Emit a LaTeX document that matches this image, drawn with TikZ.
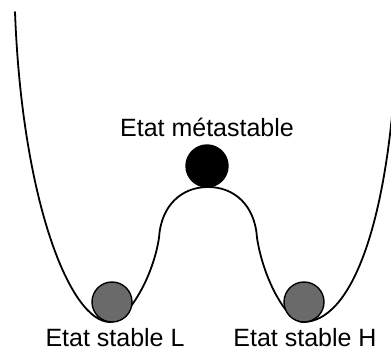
\documentclass[tikz,border=0pt]{standalone}
\usepackage{fontspec}
\setmainfont{Liberation Sans}
\definecolor{ballgray}{HTML}{6A6A6A}
\tikzset{
  well/.style={line width=1.8pt, line join=round, line cap=round},
  ball/.style={circle, draw=black, line width=1.4pt, inner sep=0pt, minimum size=40pt},
  lbl/.style={anchor=base, inner sep=0pt, font=\fontsize{25}{30}\selectfont}
}
\begin{document}
\begin{tikzpicture}[x=1pt,y=-1pt]
\useasboundingbox (0,0) rectangle (391,352);
\begin{scope}
\clip (0,0) rectangle (391,352);
\draw[well] (15,12) .. controls (22,200) and (70,322) .. (110,322)
  .. controls (125,322) and (152,282) .. (159,238)
  .. controls (161,205) and (182,187) .. (208,187)
  .. controls (234,187) and (255,205) .. (257,238)
  .. controls (264,282) and (288,322) .. (303,322)
  .. controls (350,322) and (385,230) .. (395,80);
\end{scope}
\node[ball, fill=ballgray] (L) at (112,302) {};
\node[ball, fill=ballgray] (H) at (304,302) {};
\node[ball, fill=black, minimum size=42pt] (M) at (207,166) {};
\node[lbl] (tM) at (207,137) {Etat métastable};
\node[lbl] (tL) at (115,347) {Etat stable L};
\node[lbl] (tH) at (305,347) {Etat stable H};
\end{tikzpicture}
\end{document}
